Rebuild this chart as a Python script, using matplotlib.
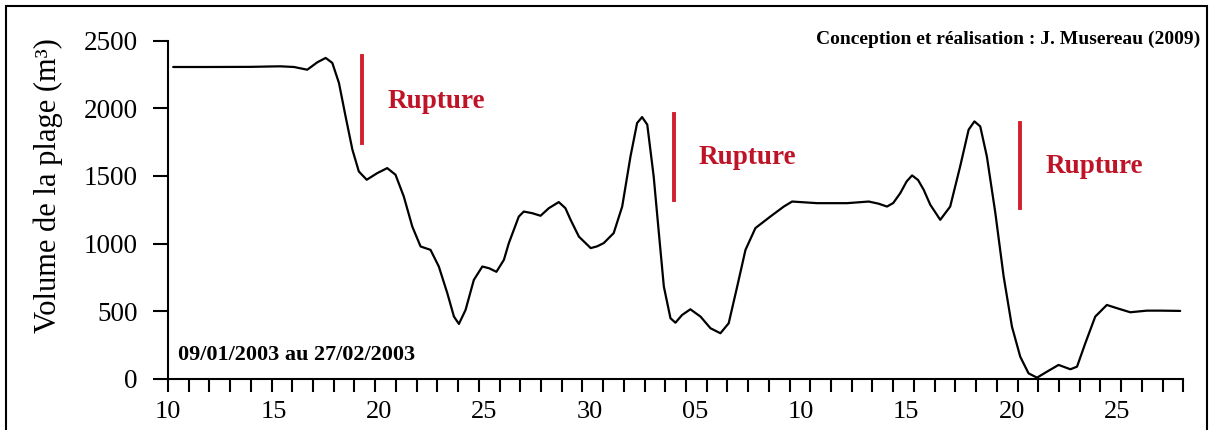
import matplotlib
matplotlib.use("Agg")
import matplotlib.pyplot as plt
from matplotlib.patches import Rectangle
import numpy as np

plt.rcParams['font.family'] = ['Liberation Serif', 'DejaVu Serif']

# jours depuis le 10/01 (une graduation = un jour)
jours = [0.25, 2.0, 4.0, 5.0, 5.43, 6.08, 6.72, 7.21, 7.61, 7.93, 8.25, 8.57,
         8.9, 9.21, 9.59, 10.1, 10.58, 10.98, 11.38, 11.79, 12.19, 12.67,
         13.07, 13.48, 13.8, 14.04, 14.36, 14.76, 15.17, 15.5, 15.85, 16.21,
         16.45, 16.69, 16.93, 17.17, 17.58, 17.98, 18.38, 18.86, 19.18, 19.43,
         19.83, 20.4, 20.71, 21.03, 21.51, 21.92, 22.32, 22.64, 22.88, 23.13,
         23.44, 23.69, 23.93, 24.25, 24.49, 24.81, 25.21, 25.7, 26.18, 26.66,
         27.06, 27.47, 27.87, 28.35, 29.07, 29.72, 30.12, 31.33, 32.77, 33.82,
         34.3, 34.7, 35.0, 35.34, 35.65, 35.91, 36.2, 36.47, 36.79, 37.27,
         37.75, 38.23, 38.64, 38.92, 39.2, 39.52, 39.93, 40.33, 40.73, 41.13,
         41.53, 41.94, 42.42, 42.98, 43.55, 43.87, 44.27, 44.75, 45.31, 45.8,
         46.44, 47.24, 47.9, 48.85]
volume = [2305, 2305, 2306, 2309, 2310, 2305, 2285, 2340, 2372, 2335, 2187, 1940,
          1694, 1533, 1472, 1521, 1558, 1509, 1348, 1126, 979, 954,
          831, 634, 461, 407, 510, 732, 831, 818, 792, 880,
          1004, 1102, 1200, 1237, 1225, 1206, 1262, 1307, 1262, 1176,
          1052, 967, 980, 1004, 1078, 1274, 1644, 1891, 1935, 1879,
          1496, 1078, 683, 449, 416, 473, 515, 461, 375, 338,
          412, 683, 954, 1115, 1200, 1274, 1311, 1299, 1299, 1311,
          1295, 1274, 1300, 1373, 1460, 1504, 1470, 1398, 1287, 1176,
          1274, 1570, 1842, 1903, 1866, 1644, 1225, 757, 387, 165,
          42, 10, 54, 104, 72, 91, 264, 461, 547, 523,
          493, 505, 505, 503]

# ruptures : position, bas, haut du trait
rupt_x = [9.38, 24.44, 41.14]
rupt_bas = [1743, 1324, 1262]
rupt_haut = [2384, 1960, 1891]
rupt_txt_x = [10.6, 25.6, 42.34]
rupt_txt_y = [2049, 1634, 1570]

tick_labels = ['10', '15', '20', '25', '30', '05', '10', '15', '20', '25']

fig = plt.figure(figsize=(12.13, 4.30), dpi=100)
ax = fig.add_axes([168/1213, 1-379/430, (1183.3-168)/1213, (379-40.6)/430])

ax.plot(jours, volume, color='black', lw=1.6, solid_capstyle='round',
        solid_joinstyle='round')

rouge = '#d11f2d'
for i in range(len(rupt_x)):
    ax.plot([rupt_x[i], rupt_x[i]], [rupt_bas[i], rupt_haut[i]], color=rouge, lw=2.8)
    ax.text(rupt_txt_x[i], rupt_txt_y[i], 'Rupture', color='#bf1428',
            fontsize=19.5, fontweight='bold', va='center', ha='left')

ax.set_xlim(0, 49)
ax.set_ylim(0, 2500)
for s in ['top', 'right']:
    ax.spines[s].set_visible(False)
for s in ['left', 'bottom']:
    ax.spines[s].set_linewidth(1.5)

ax.set_yticks([0, 500, 1000, 1500, 2000, 2500])
ax.tick_params(axis='y', direction='out', length=11, width=1.5, labelsize=19.5, pad=11)

ax.xaxis.remove_overlapping_locs = False
ax.set_xticks(np.arange(len(tick_labels)) * 5.09)
ax.set_xticklabels(tick_labels)
ax.set_xticks(np.arange(0, 50), minor=True)
ax.tick_params(axis='x', which='major', length=0, labelsize=19, pad=16)
ax.tick_params(axis='x', which='minor', direction='out', length=9, width=1.5)

ax.set_ylabel('Volume de la plage (m³)', fontsize=22)
ax.yaxis.set_label_coords(-0.103, 0.573)

ax.text(0.01, 0.072, '09/01/2003 au 27/02/2003', transform=ax.transAxes,
        fontsize=16, fontweight='bold', va='center', ha='left')
fig.text(1200/1213, 1-39/430, 'Conception et réalisation : J. Musereau (2009)',
         fontsize=14, fontweight='bold', va='center', ha='right')

fig.patches.append(Rectangle((6/1213, -0.05), (1207-6)/1213, 1.05 - 6/430,
                             transform=fig.transFigure, fill=False,
                             edgecolor='black', lw=1.5))

fig.savefig('out.png', dpi=100)
